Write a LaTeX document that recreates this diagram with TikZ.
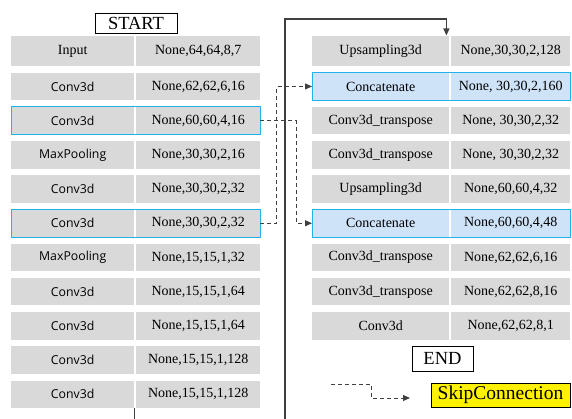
\documentclass[tikz,border=0pt]{standalone}
\usepackage{fontspec}
\setmainfont{Liberation Serif}
\newfontfamily\layersans{Open Sans}
\usetikzlibrary{arrows.meta}
\definecolor{cellgray}{HTML}{D9D9D9}
\definecolor{hlblue}{HTML}{CFE3F8}
\definecolor{hlcyan}{HTML}{22B2EA}
\definecolor{linegray}{HTML}{404040}
\begin{document}
\begin{tikzpicture}[x=1pt,y=-1pt,
  cell/.style={fill=cellgray,anchor=north west,inner sep=0pt,minimum height=27.5pt,
    font=\fontsize{14}{16}\selectfont},
  lname/.style={cell,minimum width=123pt},
  lsans/.style={lname,font=\layersans\fontsize{12.3}{14}\selectfont},
  lshape/.style={cell,minimum width=124pt},
  rname/.style={cell,minimum width=137pt},
  rshape/.style={cell,minimum width=119pt},
  blue/.style={fill=hlblue},
  hlbox/.style={draw=hlcyan,line width=1pt},
  title/.style={draw=black,line width=0.8pt,inner sep=0pt,font=\fontsize{18.5}{20}\selectfont},
  flow/.style={draw=linegray,line width=1.1pt,-{Triangle[length=7pt,width=6pt]}},
  skip/.style={draw=linegray,line width=1pt,dash pattern=on 4pt off 3pt,-{Triangle[length=7pt,width=6pt]}}
]
\useasboundingbox (0,0) rectangle (572,419);
\begin{scope}
\clip (0,0) rectangle (572,419);

\node[title,minimum width=82pt,minimum height=20pt] (start) at (136,23) {START};

% left column
\node[lname,minimum height=30pt] (L1n) at (11,36) {Input};
\node[lshape,minimum height=30pt] (L1s) at (136,36) {None,64,64,8,7};
\node[lsans] (L2n) at (11,72.5) {Conv3d};
\node[lshape] (L2s) at (136,72.5) {None,62,62,6,16};
\node[lsans] (L3n) at (11,106.7) {Conv3d};
\node[lshape] (L3s) at (136,106.7) {None,60,60,4,16};
\node[lsans] (L4n) at (11,140.9) {MaxPooling};
\node[lshape] (L4s) at (136,140.9) {None,30,30,2,16};
\node[lsans] (L5n) at (11,175.1) {Conv3d};
\node[lshape] (L5s) at (136,175.1) {None,30,30,2,32};
\node[lsans] (L6n) at (11,209.3) {Conv3d};
\node[lshape] (L6s) at (136,209.3) {None,30,30,2,32};
\node[lsans] (L7n) at (11,243.5) {MaxPooling};
\node[lshape] (L7s) at (136,243.5) {None,15,15,1,32};
\node[lsans] (L8n) at (11,277.7) {Conv3d};
\node[lshape] (L8s) at (136,277.7) {None,15,15,1,64};
\node[lsans] (L9n) at (11,311.9) {Conv3d};
\node[lshape] (L9s) at (136,311.9) {None,15,15,1,64};
\node[lsans] (L10n) at (11,346.1) {Conv3d};
\node[lshape] (L10s) at (136,346.1) {None,15,15,1,128};
\node[lsans] (L11n) at (11,380.3) {Conv3d};
\node[lshape] (L11s) at (136,380.3) {None,15,15,1,128};

\draw[hlbox] (L3n.north west) rectangle (L3s.south east);
\draw[hlbox] (L6n.north west) rectangle (L6s.south east);

% right column
\node[rname,minimum height=30.5pt] (R1n) at (312,35.5) {Upsampling3d};
\node[rshape,minimum height=30.5pt] (R1s) at (451,35.5) {None,30,30,2,128};
\node[rname,blue] (R2n) at (312,72.5) {Concatenate};
\node[rshape,blue] (R2s) at (451,72.5) {None, 30,30,2,160};
\node[rname] (R3n) at (312,106.7) {Conv3d\_transpose};
\node[rshape] (R3s) at (451,106.7) {None, 30,30,2,32};
\node[rname] (R4n) at (312,140.9) {Conv3d\_transpose};
\node[rshape] (R4s) at (451,140.9) {None, 30,30,2,32};
\node[rname] (R5n) at (312,175.1) {Upsampling3d};
\node[rshape] (R5s) at (451,175.1) {None,60,60,4,32};
\node[rname,blue] (R6n) at (312,209.3) {Concatenate};
\node[rshape,blue] (R6s) at (451,209.3) {None,60,60,4,48};
\node[rname] (R7n) at (312,243.5) {Conv3d\_transpose};
\node[rshape] (R7s) at (451,243.5) {None,62,62,6,16};
\node[rname] (R8n) at (312,277.7) {Conv3d\_transpose};
\node[rshape] (R8s) at (451,277.7) {None,62,62,8,16};
\node[rname] (R9n) at (312,311.9) {Conv3d};
\node[rshape] (R9s) at (451,311.9) {None,62,62,8,1};

\draw[hlbox] (R2n.north west) rectangle (R2s.south east);
\draw[hlbox] (R6n.north west) rectangle (R6s.south east);

\node[title,minimum width=61pt,minimum height=25pt] (endn) at (442.5,358.5) {END};

% main flow (bottom of left column to top of right column)
\draw[flow] ([xshift=0.5pt]L11n.south east) -- ++(0,40) -| (285,19) -| ([xshift=-3pt]R1n.north east);

% skip connections
\draw[skip] (L6s.east) -- ++(16.5,0) |- (R2n.west);
\draw[skip] (L3s.east) -- ++(36,0) |- (R6n.west);

% legend
\coordinate (lgA) at (331,384);
\coordinate (lgB) at (410,398);
\node[draw=black,line width=0.8pt,fill=yellow,minimum width=139pt,minimum height=24pt,inner sep=0pt,
  font=\fontsize{19.5}{21}\selectfont] (legend) at (500.5,395) {SkipConnection};
\draw[skip] (lgA) -- (371,384) |- (lgB);
\end{scope}
\end{tikzpicture}
\end{document}
